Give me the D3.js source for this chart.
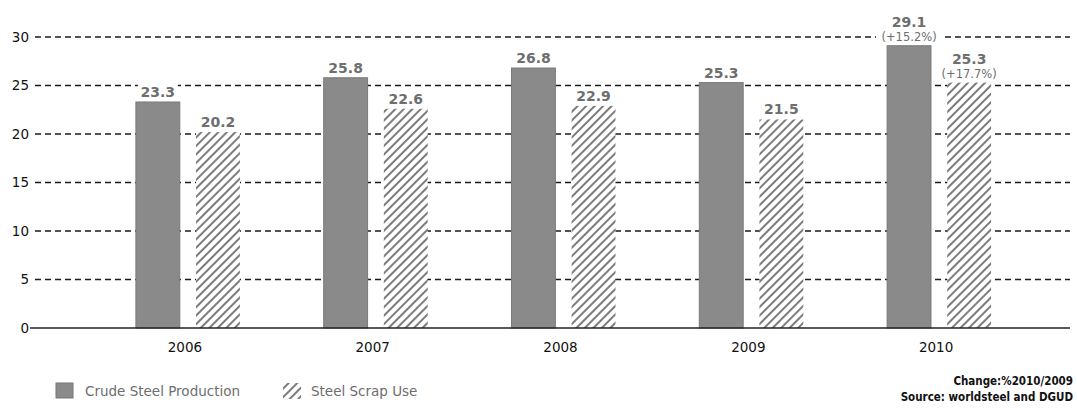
<!DOCTYPE html>
<html>
<head>
<meta charset="utf-8">
<script src="https://cdn.jsdelivr.net/npm/d3@7"></script>
<style>
  html, body { margin: 0; padding: 0; background: #fff; }
  svg { display: block; }
</style>
</head>
<body>
<svg id="chart" width="1077" height="409"></svg>
<script>
// Crude steel production and steel scrap use (million tonnes)
const years = ["2006", "2007", "2008", "2009", "2010"];
const crudeSteel = [23.3, 25.8, 26.8, 25.3, 29.1];
const scrapUse = [20.2, 22.6, 22.9, 21.5, 25.3];
const changeLabels = { "2010": ["(+15.2%)", "(+17.7%)"] };
const yTicks = [0, 5, 10, 15, 20, 25, 30];
const seriesNames = ["Crude Steel Production", "Steel Scrap Use"];

const svg = d3.select("#chart");

const y = d3.scaleLinear().domain([0, 30]).range([328, 37]);
const x = d3.scaleBand().domain(years).range([94, 1033]).paddingInner(0).paddingOuter(0);
const sub = d3.scaleBand().domain([0, 1]).range([-52, 52]).paddingInner(0.27);

const defs = svg.append("defs");
const hatch = defs.append("pattern")
  .attr("id", "hatch")
  .attr("patternUnits", "userSpaceOnUse")
  .attr("width", 6).attr("height", 6)
  .attr("patternTransform", "rotate(45)");
hatch.append("rect").attr("width", 6).attr("height", 6).attr("fill", "#fff");
hatch.append("rect").attr("x", 0).attr("y", 0).attr("width", 2).attr("height", 6).attr("fill", "#7c7c7c");

// Dashed gridlines
const grid = svg.append("g");
grid.selectAll("line").data(yTicks.filter(d => d > 0)).join("line")
  .attr("x1", 35).attr("x2", 1070)
  .attr("y1", d => y(d)).attr("y2", d => y(d))
  .attr("stroke", "#1a1a1a").attr("stroke-width", 1.6)
  .attr("stroke-dasharray", "6,4");

// Y axis tick labels
const yAxis = d3.axisLeft(y).tickValues(yTicks).tickSize(0).tickPadding(0);
const gy = svg.append("g").attr("transform", "translate(29,0)").call(yAxis);
gy.select(".domain").remove();
gy.selectAll("text")
  .attr("font-family", "DejaVu Sans").attr("font-size", 13.5).attr("fill", "#111");

// Bars
const groups = svg.append("g").selectAll("g").data(years).join("g")
  .attr("transform", d => `translate(${x(d) + x.bandwidth() / 2},0)`);

groups.append("rect")
  .attr("x", sub(0)).attr("width", sub.bandwidth())
  .attr("y", (d, i) => y(crudeSteel[i]))
  .attr("height", (d, i) => y(0) - y(crudeSteel[i]))
  .attr("fill", "#8a8a8a").attr("stroke", "#7a7a7a").attr("stroke-width", 1);

groups.append("rect")
  .attr("x", sub(1)).attr("width", sub.bandwidth())
  .attr("y", (d, i) => y(scrapUse[i]))
  .attr("height", (d, i) => y(0) - y(scrapUse[i]))
  .attr("fill", "url(#hatch)");

// Value labels with white backing so gridlines break behind them
function addLabel(g, cx, topY, lines) {
  const lg = g.append("g");
  const n = lines.length;
  const boxTop = topY - 4 - (n === 1 ? 15 : 28);
  lg.append("rect")
    .attr("x", cx - (n === 1 ? 20 : 33)).attr("width", n === 1 ? 40 : 66)
    .attr("y", boxTop).attr("height", topY - 3 - boxTop)
    .attr("fill", "#fff");
  lines.forEach((t, k) => {
    const isMain = k === 0;
    lg.append("text")
      .attr("x", cx)
      .attr("y", topY - 5 - (n - 1 - k) * 14)
      .attr("text-anchor", "middle")
      .attr("font-family", "DejaVu Sans")
      .attr("font-weight", isMain ? "bold" : "normal")
      .attr("font-size", isMain ? 14 : 11.5)
      .attr("fill", "#6e6e6e")
      .text(t);
  });
}

groups.each(function (d, i) {
  const g = d3.select(this);
  const extra = changeLabels[d];
  addLabel(g, sub(0) + sub.bandwidth() / 2, y(crudeSteel[i]),
    extra ? [d3.format(".1f")(crudeSteel[i]), extra[0]] : [d3.format(".1f")(crudeSteel[i])]);
  addLabel(g, sub(1) + sub.bandwidth() / 2, y(scrapUse[i]),
    extra ? [d3.format(".1f")(scrapUse[i]), extra[1]] : [d3.format(".1f")(scrapUse[i])]);
});

// Baseline
svg.append("line")
  .attr("x1", 30).attr("x2", 1070)
  .attr("y1", y(0)).attr("y2", y(0))
  .attr("stroke", "#222").attr("stroke-width", 1.6);

// X axis labels
const xAxis = d3.axisBottom(x).tickSize(0).tickPadding(14);
const gx = svg.append("g").attr("transform", `translate(0,${y(0)})`).call(xAxis);
gx.select(".domain").remove();
gx.selectAll("text")
  .attr("font-family", "DejaVu Sans").attr("font-size", 13.5).attr("fill", "#111")
  .attr("dx", -3);

// Legend
const legend = svg.append("g");
legend.append("rect").attr("x", 56).attr("y", 383).attr("width", 17).attr("height", 15)
  .attr("fill", "#8a8a8a").attr("stroke", "#777");
legend.append("text").attr("x", 85).attr("y", 396)
  .attr("font-family", "DejaVu Sans").attr("font-size", 13.5).attr("fill", "#6e6e6e")
  .text(seriesNames[0]);
legend.append("rect").attr("x", 283).attr("y", 383).attr("width", 18).attr("height", 16)
  .attr("fill", "url(#hatch)");
legend.append("text").attr("x", 311).attr("y", 396)
  .attr("font-family", "DejaVu Sans").attr("font-size", 13.5).attr("fill", "#6e6e6e")
  .text(seriesNames[1]);

// Notes
const notes = svg.append("g").attr("font-family", "DejaVu Sans Condensed")
  .attr("font-weight", "bold").attr("font-size", 11.5).attr("fill", "#111")
  .attr("text-anchor", "end");
notes.append("text").attr("x", 1073).attr("y", 385).text("Change:%2010/2009");
notes.append("text").attr("x", 1073).attr("y", 401).text("Source: worldsteel and DGUD");
</script>
</body>
</html>
